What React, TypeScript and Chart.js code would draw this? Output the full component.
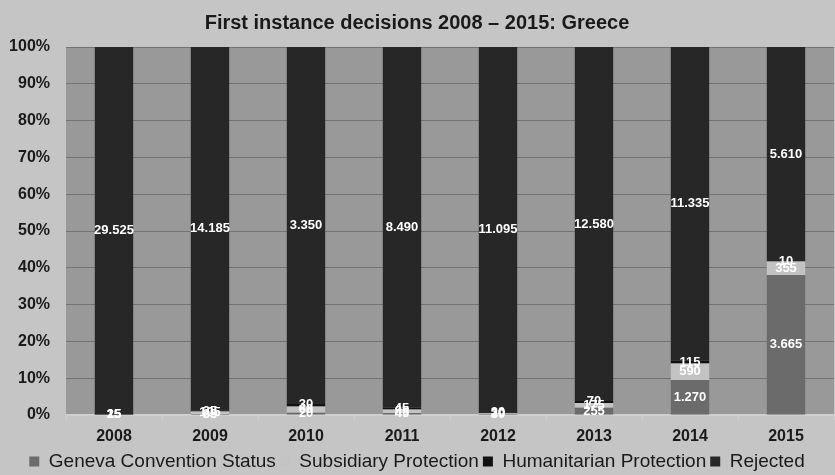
import React, { useEffect, useRef } from "react";
import { Chart, registerables } from "chart.js";

Chart.register(...registerables);

const years = ["2008", "2009", "2010", "2011", "2012", "2013", "2014", "2015"];
const geneva = [15, 35, 20, 45, 30, 255, 1270, 3665];
const subsidiary = [15, 105, 60, 85, 20, 175, 590, 355];
const humanitarian = [25, 25, 30, 45, 30, 70, 115, 10];
const rejected = [29525, 14185, 3350, 8490, 11095, 12580, 11335, 5610];
const yTicks = [0, 10, 20, 30, 40, 50, 60, 70, 80, 90, 100];

const FONT = "'Liberation Sans', Arial, sans-serif";

const fmt = (n: number) => String(n).replace(/\B(?=(\d{3})+(?!\d))/g, ".");

const bgPlugin = {
  id: "bgPlugin",
  beforeDraw(chart: any) {
    const { ctx, chartArea, width, height } = chart;
    ctx.save();
    ctx.fillStyle = "#c5c5c5";
    ctx.fillRect(0, 0, width, height);
    ctx.fillStyle = "#999999";
    ctx.fillRect(chartArea.left, chartArea.top, chartArea.right - chartArea.left, chartArea.bottom - chartArea.top);
    ctx.restore();
  },
};

const labelPlugin = {
  id: "labelPlugin",
  afterDatasetsDraw(chart: any) {
    const { ctx } = chart;
    ctx.save();
    ctx.font = `bold 13px ${FONT}`;
    ctx.fillStyle = "#ffffff";
    ctx.textAlign = "center";
    ctx.textBaseline = "middle";
    chart.data.datasets.forEach((ds: any, di: number) => {
      const meta = chart.getDatasetMeta(di);
      meta.data.forEach((el: any, i: number) => {
        const raw = ds.counts[i];
        const y = (el.y + el.base) / 2;
        ctx.fillText(fmt(raw), el.x, y);
      });
    });
    ctx.restore();
  },
};

const LEGEND_PAD = 4;
const BOTTOM_PAD = -6;

export default function App() {
  const ref = useRef<HTMLCanvasElement>(null);
  useEffect(() => {
    document.body.style.margin = "0";
    const totals = years.map((_, i) => geneva[i] + subsidiary[i] + humanitarian[i] + rejected[i]);
    const pct = (arr: number[]) => arr.map((v, i) => (v / totals[i]) * 100);
    const mk = (label: string, arr: number[], color: string) => ({
      label,
      data: pct(arr),
      counts: arr,
      backgroundColor: color,
      borderWidth: 0,
      barPercentage: 0.4,
      categoryPercentage: 1,
    });
    const legendHeight = 19 + LEGEND_PAD + 10;
    const legendTop = 475 - BOTTOM_PAD - legendHeight;
    const chart = new Chart(ref.current as HTMLCanvasElement, {
      type: "bar",
      data: {
        labels: years,
        datasets: [
          mk("Geneva Convention Status", geneva, "#6b6b6b"),
          mk("Subsidiary Protection", subsidiary, "#c3c3c3"),
          mk("Humanitarian Protection", humanitarian, "#111111"),
          mk("Rejected", rejected, "#272727"),
        ] as any,
      },
      options: {
        animation: false,
        responsive: false,
        devicePixelRatio: 1,
        layout: { padding: { left: 0, right: 1, top: 0, bottom: BOTTOM_PAD } },
        plugins: {
          title: {
            display: true,
            text: "First instance decisions 2008 – 2015: Greece",
            color: "#1a1a1a",
            font: { family: FONT, size: 20, weight: "bold" },
            padding: { top: 11, bottom: 12 },
          },
          legend: {
            position: "bottom",
            labels: {
              color: "#1a1a1a",
              font: { family: FONT, size: 19 },
              boxWidth: 10,
              boxHeight: 10,
              padding: LEGEND_PAD,
            },
          },
          tooltip: { enabled: false },
        },
        scales: {
          x: {
            stacked: true,
            afterFit: (s: any) => {
              s.height = legendTop - 415;
            },
            grid: { display: true, offset: true, drawOnChartArea: false, tickLength: 5, color: "#cfcfcf" },
            border: { color: "#cfcfcf", width: 2 },
            ticks: { color: "#1a1a1a", font: { family: FONT, size: 16, weight: "bold" }, padding: 7 },
          },
          y: {
            stacked: true,
            min: 0,
            max: 100,
            afterFit: (s: any) => {
              s.width = 66;
            },
            afterBuildTicks: (s: any) => {
              s.ticks = yTicks.map((v) => ({ value: v }));
            },
            grid: { color: "#737373", drawTicks: false, lineWidth: 1 },
            border: { display: false },
            ticks: {
              color: "#1a1a1a",
              font: { family: FONT, size: 16, weight: "bold" },
              padding: 16,
              callback: (v: any) => v + "%",
            },
          },
        },
      },
      plugins: [bgPlugin, labelPlugin],
    });
    return () => chart.destroy();
  }, []);
  return (
    <div style={{ width: 835, height: 475 }}>
      <canvas ref={ref} width={835} height={475} />
    </div>
  );
}
